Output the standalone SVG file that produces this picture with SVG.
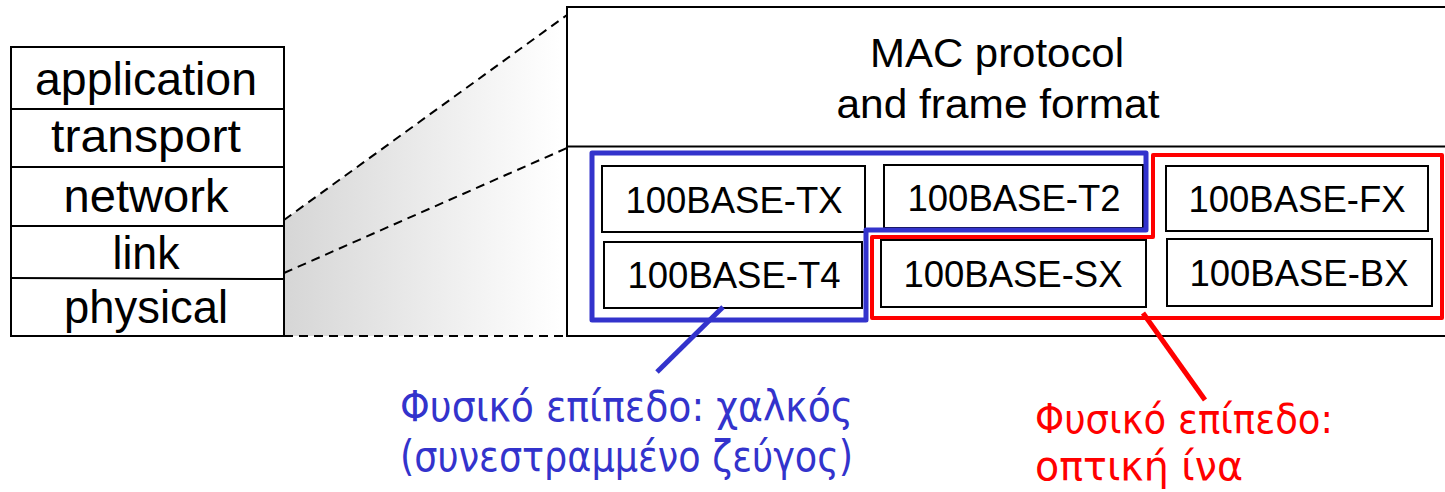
<svg xmlns="http://www.w3.org/2000/svg" width="1445" height="492" viewBox="0 0 1445 492">
<style>
.box{fill:#fff;stroke:#000;stroke-width:2}
.ln{stroke:#000;stroke-width:2;fill:none}
.dash{stroke:#000;stroke-width:2;fill:none;stroke-dasharray:9 6}
.t{font-family:"Liberation Sans",Arial,sans-serif;fill:#000;text-anchor:middle}
.stack{font-size:46px}
.eth{font-size:36.5px}
.mac{font-size:41px}
.gr{font-family:"DejaVu Sans","Noto Sans",sans-serif;font-size:43px}
.blue{fill:#3333cc}
.red{fill:#ff0000;font-size:41px}
</style>
<defs>
<linearGradient id="shade" x1="284" y1="0" x2="560" y2="0" gradientUnits="userSpaceOnUse">
<stop offset="0" stop-color="#d6d6d6"/>
<stop offset="1" stop-color="#ffffff"/>
</linearGradient>
</defs>

<g id="zoom-shade">
<polygon points="284,220 567,15 567,336 284,336" fill="url(#shade)"/>
</g>

<g id="stack">
<rect class="box" x="11" y="47" width="273" height="289"/>
<line class="ln" x1="11" y1="109" x2="284" y2="109"/>
<line class="ln" x1="11" y1="167" x2="284" y2="167"/>
<line class="ln" x1="11" y1="226" x2="284" y2="226"/>
<line class="ln" x1="11" y1="278" x2="284" y2="279"/>
<text class="t stack" x="146" y="95" textLength="222" lengthAdjust="spacingAndGlyphs">application</text>
<text class="t stack" x="146" y="152" textLength="190" lengthAdjust="spacingAndGlyphs">transport</text>
<text class="t stack" x="146" y="212" textLength="165" lengthAdjust="spacingAndGlyphs">network</text>
<text class="t stack" x="146" y="269" textLength="67" lengthAdjust="spacingAndGlyphs">link</text>
<text class="t stack" x="146" y="323" textLength="164" lengthAdjust="spacingAndGlyphs">physical</text>
</g>

<g id="mac">
<rect class="box" x="567" y="7" width="900" height="329"/>
<line class="ln" x1="567" y1="146.5" x2="1445" y2="146.5"/>
<text class="t mac" x="997" y="67" textLength="254" lengthAdjust="spacingAndGlyphs">MAC protocol</text>
<text class="t mac" x="998" y="118" textLength="323" lengthAdjust="spacingAndGlyphs">and frame format</text>
</g>

<g id="tx">
<rect class="box" x="602" y="166" width="263" height="66"/>
<text class="t eth" x="734" y="213">100BASE-TX</text>
</g>
<g id="t2">
<rect class="box" x="884" y="165" width="259" height="63"/>
<text class="t eth" x="1014" y="211">100BASE-T2</text>
</g>
<g id="fx">
<rect class="box" x="1166" y="166" width="262" height="65"/>
<text class="t eth" x="1297" y="212">100BASE-FX</text>
</g>
<g id="t4">
<rect class="box" x="604" y="242" width="258" height="66"/>
<text class="t eth" x="734" y="288">100BASE-T4</text>
</g>
<g id="sx">
<rect class="box" x="881" y="240" width="265" height="67"/>
<text class="t eth" x="1013" y="287">100BASE-SX</text>
</g>
<g id="bx">
<rect class="box" x="1167" y="239" width="265" height="67"/>
<text class="t eth" x="1299" y="286">100BASE-BX</text>
</g>

<g id="copper-group">
<polygon points="592,153 1146,153 1146,230 866,230 866,320 592,320" fill="none" stroke="#3333cc" stroke-width="5" stroke-linejoin="round"/>
</g>
<g id="fiber-group">
<polygon points="872,237 1153,237 1153,155 1442,155 1442,318 872,318" fill="none" stroke="#ff0000" stroke-width="4" stroke-linejoin="round"/>
</g>

<g id="copper-label">
<text class="gr blue" x="400" y="421" textLength="453" lengthAdjust="spacingAndGlyphs">Φυσικό επίπεδο: χαλκός</text>
<text class="gr blue" x="400" y="471" textLength="453" lengthAdjust="spacingAndGlyphs">(συνεστραμμένο ζεύγος)</text>
</g>
<g id="fiber-label">
<text class="gr red" x="1035" y="433" textLength="298" lengthAdjust="spacingAndGlyphs">Φυσικό επίπεδο:</text>
<text class="gr red" x="1035" y="480" textLength="208" lengthAdjust="spacingAndGlyphs">οπτική ίνα</text>
</g>

<g id="connectors">
<line class="dash" x1="284" y1="220" x2="567" y2="15"/>
<line class="dash" x1="284" y1="273" x2="567" y2="148"/>
<line class="dash" x1="284" y1="336" x2="567" y2="336"/>
<line x1="723" y1="307" x2="657" y2="372" stroke="#3333cc" stroke-width="5"/>
<line x1="1143" y1="313" x2="1205" y2="400" stroke="#ff0000" stroke-width="5"/>
</g>
</svg>
